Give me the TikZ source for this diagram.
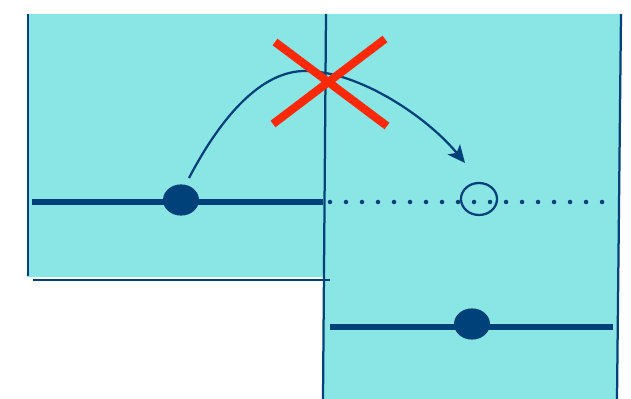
\documentclass[tikz,border=0pt]{standalone}
\usepackage{xcolor}
\usepackage{tikz}
\usetikzlibrary{arrows.meta,shapes.geometric}
\definecolor{navy}{HTML}{00417A}
\definecolor{pool}{HTML}{8AE5E5}
\definecolor{xred}{HTML}{FF2A05}
\begin{document}
\begin{tikzpicture}[x=0.025cm,y=-0.025cm,
  wall/.style={navy,line width=1.6pt},
  rail/.style={navy,line width=3.8pt},
  dotrail/.style={navy,line width=3.2pt,line cap=round,dash pattern=on 0pt off 0.4cm},
  ball/.style={ellipse,fill=navy,inner sep=0pt,minimum width=0.9cm,minimum height=0.78cm},
  ghost/.style={ellipse,draw=navy,line width=1.6pt,inner sep=0pt,minimum width=0.9cm,minimum height=0.8cm},
  hop/.style={-{Stealth[length=4.4mm,width=4mm,inset=1.1mm]},navy,line width=1.6pt},
  veto/.style={xred,line width=5.8pt}]
 \useasboundingbox (0,0) rectangle (631,399);
 \fill[pool] (27,14) rectangle (327,277);
 \fill[pool] (325,14) -- (621,14) -- (617,399) -- (323,399) -- cycle;
 \draw[wall] (28,14) -- (28,276);
 \draw[wall] (326,14) -- (323,399);
 \draw[wall] (621,14) -- (617,399);
 \draw[wall] (33,280) -- (330,280);
 \coordinate (railAw) at (32,202);   \coordinate (railAe) at (323,202);
 \coordinate (dotAw)  at (330,202);  \coordinate (dotAe)  at (602.2,202);
 \coordinate (railBw) at (330,327);  \coordinate (railBe) at (613,327);
 \draw[rail] (railAw) -- (railAe);
 \draw[dotrail] (dotAw) -- (dotAe);
 \draw[rail] (railBw) -- (railBe);
 \node[ball]  (ballL) at (181,200) {};
 \node[ghost] (slot)  at (479,199) {};
 \node[ball]  (ballR) at (472,324) {};
 \coordinate (hopA)   at (189,178);
 \coordinate (hopTop) at (305,71);
 \coordinate (hopB)   at (465,163);
 \draw[hop] (hopA) .. controls (222,115) and (262,71) .. (hopTop)
                   .. controls (360,71) and (428,118) .. (hopB);
 \coordinate (vetoNW) at (275,42);  \coordinate (vetoSE) at (387,126);
 \coordinate (vetoSW) at (273,124); \coordinate (vetoNE) at (385,39);
 \draw[veto] (vetoNW) -- (vetoSE);
 \draw[veto] (vetoSW) -- (vetoNE);
\end{tikzpicture}
\end{document}
